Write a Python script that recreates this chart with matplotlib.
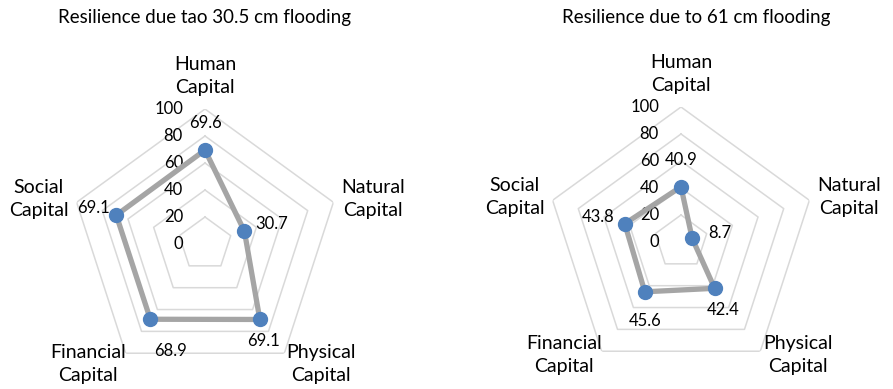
import numpy as np
import matplotlib
matplotlib.use("Agg")
import matplotlib.pyplot as plt

plt.rcParams['font.family'] = ['Lato', 'DejaVu Sans']

# Data
categories = ["Human\nCapital", "Natural\nCapital", "Physical\nCapital",
              "Financial\nCapital", "Social\nCapital"]
flood_30cm = [69.6, 30.7, 69.1, 68.9, 69.1]
flood_61cm = [40.9, 8.7, 42.4, 45.6, 43.8]
titles = ["Resilience due tao 30.5 cm flooding", "Resilience due to 61 cm flooding"]
ring_values = [20, 40, 60, 80, 100]
tick_labels = ["0", "20", "40", "60", "80", "100"]
tick_values = [0, 20, 40, 60, 80, 100]

# Styling
LINE_C = "#A5A5A5"
MARK_C = "#4F81BD"
GRID_C = "#D9D9D9"
TXT_C = "#000000"
FS_NUM = 12
FS_CAT = 14
FS_TITLE = 13.5

# label offsets (pixels) for the value labels in each panel
value_offsets = [
    [(0, 27), (27, 7), (4, -22), (20, -32), (-23, 7)],
    [(0, 27), (28, 5), (8, -22), (0, -29), (-27, 7)],
]
# category label offsets (pixels) relative to the outer ring vertex
cat_offsets = [(0, 13), (8, 3), (37, 9), (-38, 9), (-8, 3)]
cat_offsets_right = [(0, 13), (8, 3), (38, 16), (-38, 16), (-8, 3)]
cat_align = [("center", "bottom"), ("left", "center"), ("center", "top"),
             ("center", "top"), ("right", "center")]

fig = plt.figure(figsize=(8.93, 3.89), dpi=100)

n = len(categories)
theta = np.linspace(0, 2 * np.pi, n, endpoint=False)
theta_c = np.append(theta, theta[0])

axes_rects = [
    [70 / 893, 10 / 389, 270 / 893, 270 / 389],
    [546 / 893, 12 / 389, 270 / 893, 270 / 389],
]
title_x = [205 / 893, 696 / 893]

for k, (rect, values) in enumerate(zip(axes_rects, [flood_30cm, flood_61cm])):
    ax = fig.add_axes(rect, projection="polar")
    ax.set_theta_offset(np.pi / 2)
    ax.set_theta_direction(-1)
    ax.set_ylim(0, 100)
    ax.grid(False)
    ax.set_xticks([])
    ax.set_yticks([])
    ax.spines["polar"].set_visible(False)
    ax.patch.set_visible(False)

    # pentagonal gridlines
    for r in ring_values:
        ax.plot(theta_c, [r] * (n + 1), color=GRID_C, lw=1.1, zorder=1)

    # radial axis labels
    for tv, tl in zip(tick_values, tick_labels):
        ax.annotate(tl, xy=(0, tv), xytext=(-22, 0), textcoords="offset pixels",
                    ha="right", va="center", fontsize=FS_NUM, color=TXT_C,
                    annotation_clip=False)

    # series
    vals_c = np.append(values, values[0])
    ax.plot(theta_c, vals_c, color=LINE_C, lw=3.8, zorder=3,
            solid_joinstyle="round")
    ax.plot(theta, values, "o", color=MARK_C, ms=10, zorder=4,
            markeredgecolor=MARK_C)

    # value labels
    for t, v, off in zip(theta, values, value_offsets[k]):
        ax.annotate(f"{v:.1f}", xy=(t, v), xytext=off, textcoords="offset pixels",
                    ha="center", va="center", fontsize=FS_NUM, color=TXT_C,
                    annotation_clip=False, zorder=5)

    # category labels
    offs = cat_offsets if k == 0 else cat_offsets_right
    for t, lab, off, (ha, va) in zip(theta, categories, offs, cat_align):
        ax.annotate(lab, xy=(t, 100), xytext=off, textcoords="offset pixels",
                    ha=ha, va=va, multialignment="center", fontsize=FS_CAT,
                    color=TXT_C, annotation_clip=False, linespacing=1.4)

    fig.text(title_x[k], 1 - 17 / 389, titles[k], ha="center", va="center",
             fontsize=FS_TITLE, color=TXT_C)

fig.savefig("out.png", dpi=100, facecolor="white")
